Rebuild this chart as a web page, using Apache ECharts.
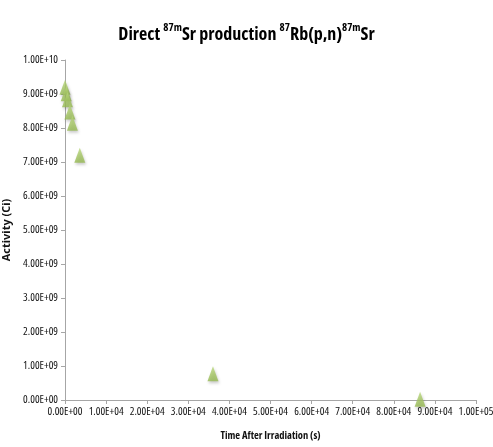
<!DOCTYPE html>
<html><head><meta charset="utf-8">
<script src="https://cdn.jsdelivr.net/npm/echarts@6/dist/echarts.min.js"></script>
<style>html,body{margin:0;padding:0;background:#fff}#c{width:493px;height:447px}</style>
</head><body><div id="c"></div>
<script>
var timeSeconds = [0, 300, 600, 1200, 1800, 3600, 36000, 86400];
var activityCi = [9.2e9, 9.01e9, 8.83e9, 8.47e9, 8.14e9, 7.2e9, 0.77e9, 0.024e9];
var xTickStep = 1e4, yTickStep = 1e9;

function sci(v) {
  if (v === 0) return '0.00E+00';
  var s = v.toExponential(2).toUpperCase();
  var p = s.split('E');
  var e = parseInt(p[1], 10);
  var es = (e < 0 ? '-' : '+') + (Math.abs(e) < 10 ? '0' : '') + Math.abs(e);
  return p[0] + 'E' + es;
}

var FONT = "'Open Sans'";
var chart = echarts.init(document.getElementById('c'));
chart.setOption({
  animation: false,
  title: {
    left: 'center', top: 17,
    text: '{a|Direct }{s|87m}{a|Sr production }{s|87}{a|Rb(p,n)}{s|87m}{a|Sr}',
    textStyle: {
      rich: {
        a: {fontFamily: FONT, fontStyle: 'condensed', fontWeight: 'bold', fontSize: 18, color: '#000', verticalAlign: 'bottom', lineHeight: 22},
        s: {fontFamily: FONT, fontStyle: 'condensed', fontWeight: 'bold', fontSize: 11, color: '#000', verticalAlign: 'top', lineHeight: 22, padding: [0,0,6,0]}
      }
    }
  },
  grid: {left: 65, right: 17, top: 60, bottom: 47, containLabel: false, outerBoundsMode: 'none'},
  xAxis: {
    type: 'value', min: 0, max: 1e5, interval: xTickStep,
    name: 'Time After Irradiation (s)', nameLocation: 'middle', nameGap: 31,
    nameTextStyle: {fontFamily: FONT, fontStyle: 'condensed', fontWeight: 'bold', fontSize: 10.5, color: '#111'},
    axisLine: {show: true, lineStyle: {color: '#a6a6a6'}},
    axisTick: {show: true, length: 4, lineStyle: {color: '#a6a6a6'}},
    axisLabel: {formatter: sci, fontFamily: FONT, fontStyle: 'condensed', fontSize: 11, color: '#111', margin: 6, showMinLabel: true, showMaxLabel: true, hideOverlap: false},
    splitLine: {show: false}
  },
  yAxis: {
    type: 'value', min: 0, max: 1e10, interval: yTickStep,
    name: 'Activity (Ci)', nameLocation: 'middle', nameGap: 44,
    nameTextStyle: {fontFamily: FONT, fontWeight: 'bold', fontSize: 11, color: '#111'},
    axisLine: {show: true, lineStyle: {color: '#a6a6a6'}},
    axisTick: {show: true, length: 4, lineStyle: {color: '#a6a6a6'}},
    axisLabel: {formatter: sci, fontFamily: FONT, fontStyle: 'condensed', fontSize: 11, color: '#111', margin: 7, showMinLabel: true, showMaxLabel: true},
    splitLine: {show: false}
  },
  series: [{
    type: 'scatter',
    symbol: 'triangle',
    symbolSize: [11, 15],
    data: timeSeconds.map(function (t, i) { return [t, activityCi[i]]; }),
    itemStyle: {
      color: new echarts.graphic.LinearGradient(0, 0, 0, 1, [{offset: 0, color: '#b8d77a'}, {offset: 1, color: '#94b84f'}]),
      shadowColor: 'rgba(0,0,0,0.25)', shadowBlur: 3, shadowOffsetX: 1, shadowOffsetY: 2
    }
  }]
});
</script></body></html>
